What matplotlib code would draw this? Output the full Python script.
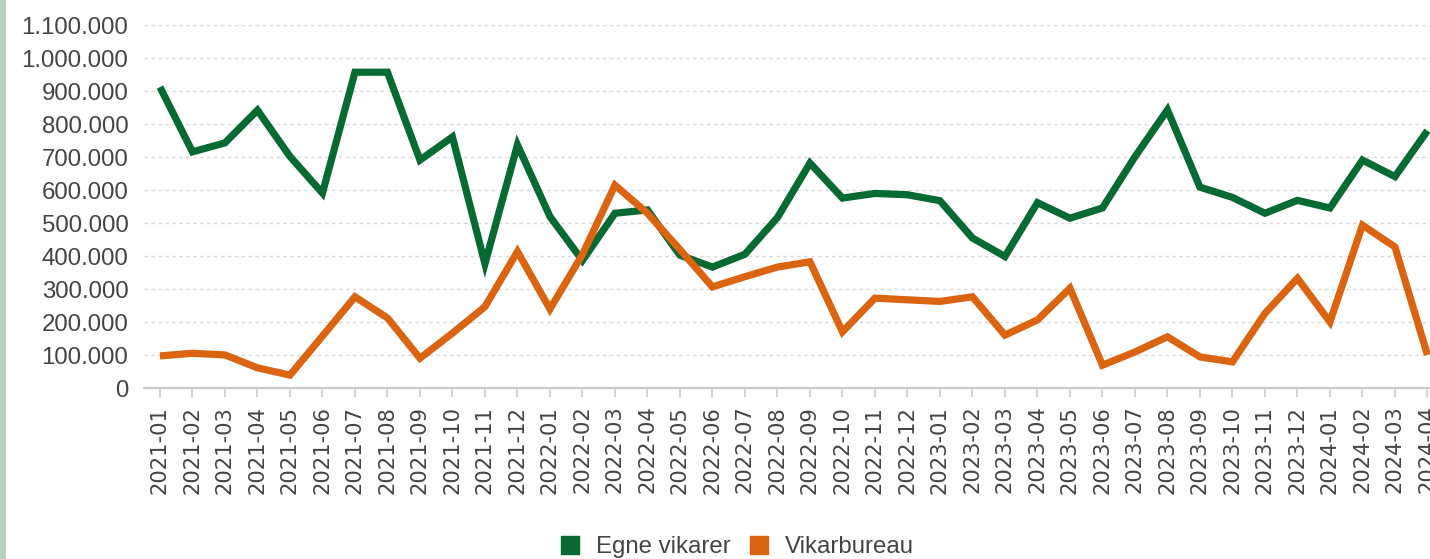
import matplotlib
matplotlib.use("Agg")
import matplotlib.pyplot as plt
from matplotlib.ticker import FuncFormatter, MultipleLocator
from matplotlib.patches import Rectangle
from matplotlib.lines import Line2D

months = [
    "2021-01", "2021-02", "2021-03", "2021-04", "2021-05", "2021-06",
    "2021-07", "2021-08", "2021-09", "2021-10", "2021-11", "2021-12",
    "2022-01", "2022-02", "2022-03", "2022-04", "2022-05", "2022-06",
    "2022-07", "2022-08", "2022-09", "2022-10", "2022-11", "2022-12",
    "2023-01", "2023-02", "2023-03", "2023-04", "2023-05", "2023-06",
    "2023-07", "2023-08", "2023-09", "2023-10", "2023-11", "2023-12",
    "2024-01", "2024-02", "2024-03", "2024-04",
]

egne_vikarer = [
    912000, 716000, 743000, 842000, 702000, 591000,
    957000, 957000, 691000, 761000, 377000, 737000,
    520000, 387000, 530000, 540000, 403000, 367000,
    406000, 517000, 682000, 576000, 590000, 586000,
    568000, 455000, 399000, 562000, 515000, 546000,
    701000, 843000, 609000, 578000, 530000, 569000,
    546000, 691000, 641000, 780000,
]

vikarbureau = [
    98000, 106000, 101000, 62000, 40000, 158000,
    277000, 213000, 91000, 167000, 247000, 414000,
    240000, 405000, 615000, 530000, 420000, 307000,
    338000, 367000, 383000, 171000, 273000, 268000,
    263000, 277000, 161000, 207000, 303000, 70000,
    110000, 156000, 95000, 80000, 227000, 333000,
    201000, 494000, 428000, 101000,
]

series_names = ["Egne vikarer", "Vikarbureau"]
series_colors = ["#066a32", "#db6410"]

W, H = 1430, 559
fig = plt.figure(figsize=(W / 100, H / 100), dpi=100)
fig.patch.set_facecolor("white")

# left decorative strip
fig.patches.append(Rectangle((0, 0), 5.5 / W, 1, transform=fig.transFigure,
                             facecolor="#b8d4c0", edgecolor="none", zorder=0))

left_px, right_px = 143.7, 1443.7
top_px, bottom_px = 25, 388.3
ax = fig.add_axes([left_px / W, 1 - bottom_px / H,
                   (right_px - left_px) / W, (bottom_px - top_px) / H])
ax.set_facecolor("none")

x = list(range(len(months)))
for vals, name, col in zip([egne_vikarer, vikarbureau], series_names, series_colors):
    ax.plot(x, vals, color=col, lw=5.2, solid_joinstyle="miter",
            solid_capstyle="butt", label=name, zorder=3, clip_on=False)

ax.set_xlim(-0.5, len(months) - 0.5)
ax.set_ylim(0, 1100000)
ax.yaxis.set_major_locator(MultipleLocator(100000))
ax.yaxis.set_major_formatter(FuncFormatter(lambda v, p: f"{int(round(v)):,}".replace(",", ".")))

ax.set_xticks(x)
ax.set_xticklabels(months, rotation=90, fontsize=15.2, color="#444444",
                   family="DejaVu Sans")
for lab in ax.get_yticklabels():
    lab.set_family("Liberation Sans")
ax.tick_params(axis="y", length=0, pad=11, labelsize=17.3, labelcolor="#444444")
ax.tick_params(axis="x", length=6.5, width=1.2, color="#cccccc", pad=6)

ax.grid(axis="y", color="#d9d9d9", linestyle=(0, (2.5, 2.5)), linewidth=1.0, zorder=1)
ax.grid(axis="x", visible=False)
for s in ["top", "right", "left"]:
    ax.spines[s].set_visible(False)
ax.spines["bottom"].set_color("#cccccc")
ax.spines["bottom"].set_linewidth(1.6)
ax.set_axisbelow(True)

handles = [Line2D([], [], marker="s", linestyle="none", markersize=12.5,
                  markerfacecolor=c, markeredgecolor=c) for c in series_colors]
fig.legend(handles, series_names, loc="center", bbox_to_anchor=(736 / W, 1 - 547 / H),
           ncol=2, frameon=False, handletextpad=0.55, columnspacing=0.7,
           prop={"family": "Liberation Sans", "size": 17.3}, labelcolor="#444444",
           handlelength=1.0)

fig.savefig("out.png", dpi=100, facecolor="white")
